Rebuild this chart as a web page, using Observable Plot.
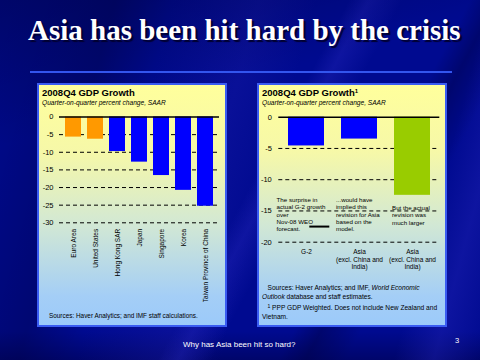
<!DOCTYPE html>
<html>
<head>
<meta charset="utf-8">
<script src="https://cdn.jsdelivr.net/npm/d3@7"></script>
<script src="https://cdn.jsdelivr.net/npm/@observablehq/plot@0.6"></script>
<style>
  html, body { margin: 0; padding: 0; }
  body {
    width: 480px; height: 360px; position: relative; overflow: hidden;
    background-color: #000A90;
    background-image:
      linear-gradient(165deg, rgba(0,0,50,0.4) 0%, rgba(0,0,50,0) 30%),
      linear-gradient(118deg, rgba(0,0,0,0) 0%, rgba(0,0,0,0) 52%, rgba(40,40,190,0.35) 55%, rgba(0,0,0,0) 60%, rgba(0,0,0,0) 70%, rgba(0,0,60,0.4) 74%, rgba(0,0,0,0) 80%),
      linear-gradient(105deg, rgba(0,0,0,0) 0%, rgba(0,0,60,0.35) 20%, rgba(0,0,0,0) 30%, rgba(30,30,170,0.3) 45%, rgba(0,0,0,0) 55%, rgba(0,0,0,0) 85%, rgba(40,40,190,0.35) 92%, rgba(0,0,0,0) 100%),
      linear-gradient(180deg, rgba(0,0,0,0) 0%, rgba(0,0,0,0) 92%, rgba(0,0,70,0.5) 100%);
    font-family: "Liberation Sans", Arial, sans-serif;
  }
  .abs { position: absolute; white-space: nowrap; line-height: 1; }
  .title {
    left: 28px; top: 16.2px; font-family: "Liberation Serif", "Times New Roman", serif;
    font-weight: bold; font-size: 29px; color: #fff;
    text-shadow: 2px 2px 1px #000030;
  }
  .hline { position: absolute; left: 30px; top: 71px; width: 422px; height: 1.5px; background: #3355EE; }
  .panel {
    position: absolute; top: 83px; width: 190px; height: 244px; box-sizing: border-box;
    border: 2px solid #3A5CF2;
    background: linear-gradient(to bottom, #FFFF9C 0%, #F6F8A8 28%, #D2E8D4 58%, #A4CEF6 88%, #9CCAFA 100%);
  }
  .ptitle { font-weight: bold; font-size: 9.5px; color: #000; }
  .psub { font-style: italic; font-size: 6.6px; color: #000; }
  .src { font-size: 6.4px; color: #000; }
  .foot { color: #fff; font-size: 8px; }
  svg { overflow: visible; }
</style>
</head>
<body>
<div class="abs title">Asia has been hit hard by the crisis</div>
<div class="hline"></div>

<div class="panel" style="left:37px"></div>
<div class="panel" style="left:257px"></div>

<div class="abs ptitle" style="left:42px; top:88px">2008Q4 GDP Growth</div>
<div class="abs psub" style="left:42px; top:99.8px">Quarter-on-quarter percent change, SAAR</div>
<div class="abs ptitle" style="left:262px; top:88px">2008Q4 GDP Growth<sup style="font-size:6px; vertical-align: 3px; font-weight:bold">1</sup></div>
<div class="abs psub" style="left:262px; top:99.8px">Quarter-on-quarter percent change, SAAR</div>

<div id="left" class="abs" style="left:38px; top:108px"></div>
<div id="right" class="abs" style="left:258px; top:108px"></div>

<div class="abs src" style="left:49px; top:312.7px">Sources: Haver Analytics; and IMF staff calculations.</div>
<div class="abs src" style="left:262px; top:283.8px; line-height:8.9px; font-size:6.6px">
&nbsp;&nbsp;&nbsp;Sources: Haver Analytics; and IMF, <i>World Economic</i><br>
<i>Outlook</i> database and staff estimates.<br>
&nbsp;&nbsp;&nbsp;<sup style="font-size:5px; vertical-align:2px">1</sup> PPP GDP Weighted. Does not include New Zealand and<br>
Vietnam.
</div>

<div class="abs foot" style="left:183px; top:340.7px">Why has Asia been hit so hard?</div>
<div class="abs foot" style="left:455px; top:337px; font-size:7.5px">3</div>

<script>
// ---------- Data ----------
const leftCategories = ["Euro Area", "United States", "Hong Kong SAR", "Japan", "Singapore", "Korea", "Taiwan Province of China"];
const leftValues = [-5.7, -6.3, -9.8, -12.8, -16.6, -20.8, -25.3];
const leftGroups = ["Advanced", "Advanced", "Asia", "Asia", "Asia", "Asia", "Asia"];
const leftTicks = [0, -5, -10, -15, -20, -25, -30];

const rightKeys = ["G-2", "Asia (model)", "Asia (actual)"];
const rightLabels = ["G-2", "Asia\n(excl. China and\nIndia)", "Asia\n(excl. China and\nIndia)"];
const rightValues = [-4.6, -3.5, -12.5];
const rightGroups = ["Surprise", "Surprise", "Actual"];
const rightTicks = [0, -5, -10, -15, -20];

const note1 = "The surprise in\nactual G-2 growth\nover\nNov-08 WEO\nforecast.";
const note2 = "...would have\nimplied this\nrevision for Asia\nbased on the\nmodel.";
const note3 = "But the actual\nrevision was\nmuch larger";

// ---------- Tables ----------
const leftData = leftCategories.map((c, i) => ({cat: c, value: leftValues[i], group: leftGroups[i]}));
const rightData = rightKeys.map((k, i) => ({key: k, value: rightValues[i], group: rightGroups[i]}));

const fontStyle = {background: "transparent", fontFamily: "Liberation Sans, Arial, sans-serif", fontSize: "7.5px", color: "black", overflow: "visible"};

// ---------- Left chart ----------
const left = Plot.plot({
  width: 188, height: 200,
  marginLeft: 21, marginRight: 7, marginTop: 8.5, marginBottom: 85.7,
  style: fontStyle,
  x: {domain: leftCategories, paddingInner: 0.28, paddingOuter: 0.14, label: null, axis: null},
  y: {domain: [-30, 0], ticks: leftTicks, tickSize: 0, tickPadding: 6, tickFormat: d => String(d), label: null},
  color: {domain: ["Advanced", "Asia"], range: ["#FF9900", "#0000FF"]},
  marks: [
    Plot.ruleY(leftTicks.filter(d => d !== 0), {stroke: "black", strokeDasharray: "4,3", strokeWidth: 1}),
    Plot.barY(leftData, {x: "cat", y: "value", fill: "group"}),
    Plot.ruleY([0], {stroke: "black", strokeWidth: 1.5}),
    Plot.axisX({tickRotate: -90, tickSize: 0, tickPadding: 6, fontSize: 6.5, label: null, anchor: "bottom"})
  ]
});
document.getElementById("left").append(left);

// ---------- Right chart ----------
const right = Plot.plot({
  width: 188, height: 170,
  marginLeft: 20.3, marginRight: 6.7, marginTop: 8.7, marginBottom: 36.3,
  style: fontStyle,
  x: {domain: rightKeys, paddingInner: 0.33, paddingOuter: 0.165, label: null, axis: null},
  y: {domain: [-20, 0], ticks: rightTicks, tickSize: 0, tickPadding: 7, tickFormat: d => String(d), label: null},
  color: {domain: ["Surprise", "Actual"], range: ["#0000FF", "#99CC00"]},
  marks: [
    Plot.ruleY(rightTicks.filter(d => d !== 0), {stroke: "black", strokeDasharray: "4,3", strokeWidth: 1}),
    Plot.barY(rightData, {x: "key", y: "value", fill: "group"}),
    Plot.ruleY([0], {stroke: "black", strokeWidth: 1.5}),
    Plot.axisX({tickSize: 0, tickPadding: 6, fontSize: 6.5, lineHeight: 1.2, label: null, anchor: "bottom",
      tickFormat: k => rightLabels[rightKeys.indexOf(k)]}),
    Plot.text([{key: rightKeys[0], t: note1}], {x: "key", y: () => -12.77, text: "t", textAnchor: "start", lineAnchor: "top", dx: -30, fontSize: 6.2, lineHeight: 1.17}),
    Plot.text([{key: rightKeys[1], t: note2}], {x: "key", y: () => -12.77, text: "t", textAnchor: "start", lineAnchor: "top", dx: -23.5, fontSize: 6.2, lineHeight: 1.17}),
    Plot.text([{key: rightKeys[2], t: note3}], {x: "key", y: () => -14.05, text: "t", textAnchor: "start", lineAnchor: "top", dx: -20.5, fontSize: 6.2, lineHeight: 1.17}),
    Plot.tickY([{key: rightKeys[0]}], {x: "key", y: () => -17.5, dx: 10, insetLeft: 11.3, insetRight: 4.7, stroke: "black", strokeWidth: 2})
  ]
});
document.getElementById("right").append(right);
</script>
</body>
</html>
